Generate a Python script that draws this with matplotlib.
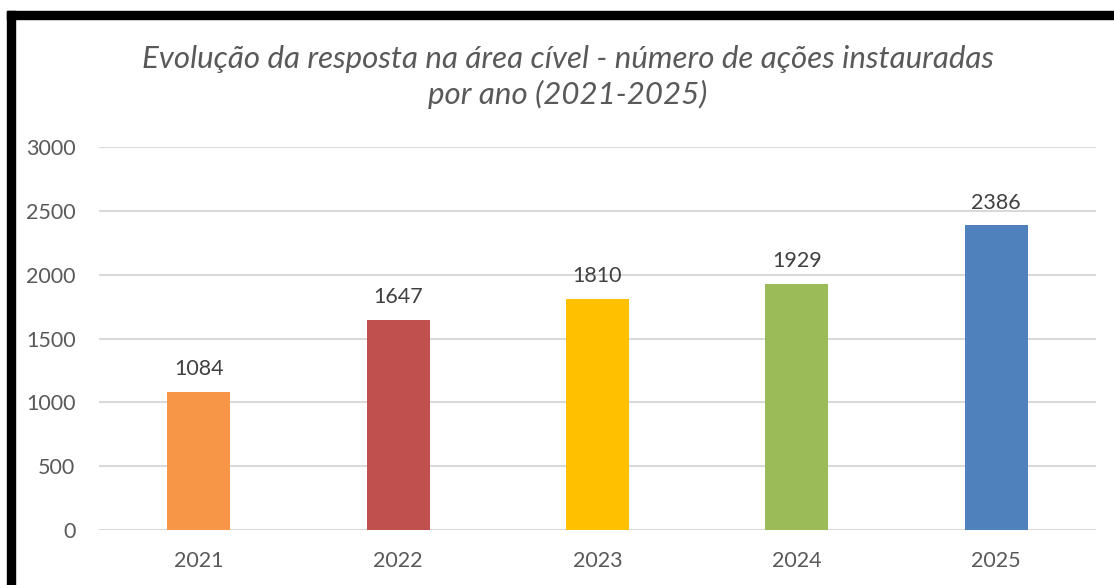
import matplotlib.pyplot as plt
from matplotlib.patches import Rectangle

# dados
anos = ["2021", "2022", "2023", "2024", "2025"]
acoes = [1084, 1647, 1810, 1929, 2386]
cores = ["#F79646", "#C0504D", "#FFC000", "#9BBB59", "#4F81BD"]
titulo = "Evolução da resposta na área cível - número de ações instauradas\npor ano (2021-2025)"

plt.rcParams["font.family"] = ["Lato", "DejaVu Sans"]

fig = plt.figure(figsize=(11.14, 5.85), dpi=100)
ax = fig.add_axes([0.0889, 0.094, 0.8949, 0.6547])

x = range(len(anos))
barras = ax.bar(x, acoes, width=0.316, color=cores, zorder=3)

for b, v in zip(barras, acoes):
    ax.annotate(str(v), (b.get_x() + b.get_width() / 2, v),
                xytext=(0, 9), textcoords="offset points",
                ha="center", va="bottom", fontsize=15.5, color="#404040")

ax.set_xlim(-0.5, len(anos) - 0.5)
ax.set_ylim(0, 3000)
ax.set_yticks(range(0, 3001, 500))
ax.set_xticks(list(x))
ax.set_xticklabels(anos)
ax.tick_params(axis="both", length=0, labelsize=15.5, labelcolor="#595959")
ax.tick_params(axis="y", pad=17)
ax.tick_params(axis="x", pad=15)
ax.grid(axis="y", color="#D9D9D9", linewidth=1.5, zorder=0)
for s in ax.spines.values():
    s.set_visible(False)

fig.text(0.51, 0.868, titulo, ha="center", va="center", fontsize=22.5,
         style="italic", color="#595959", linespacing=1.3)

# moldura preta (topo e esquerda)
fig.add_artist(Rectangle((7 / 1114, 1 - 19 / 585), 1 - 7 / 1114, 8 / 585,
                         transform=fig.transFigure, color="black"))
fig.add_artist(Rectangle((7 / 1114, 0), 8 / 1114, 1 - 11 / 585,
                         transform=fig.transFigure, color="black"))

fig.savefig("out.png", dpi=100)
